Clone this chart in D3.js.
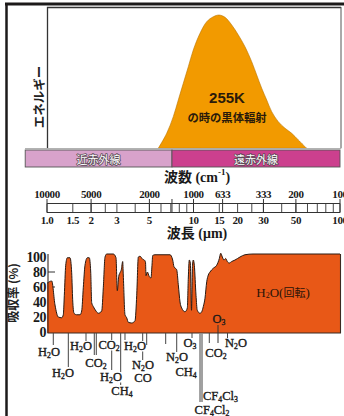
<!DOCTYPE html>
<html><head><meta charset="utf-8">
<script src="https://cdn.jsdelivr.net/npm/d3@7"></script>
<style>html,body{margin:0;padding:0;background:#fff;} svg{display:block}</style>
</head><body>
<svg id="chart" width="344" height="416"></svg>
<script>
// ---------- data ----------
const wavenumberTicks = [10000, 5000, 2000, 1000, 633, 333, 200, 100];
const wavelengthTicks = [1.0, 1.5, 2, 3, 5, 10, 15, 20, 30, 50, 100];
const wavelengthTickLabels = ["1.0", "1.5", "2", "3", "5", "10", "15", "20", "30", "50", "100"];
const rulerMinor = [1, 1.5, 2, 2.5, 3, 4, 5, 6, 7, 8, 9, 10, 15, 20, 25, 30, 40, 50, 60, 70, 80, 90, 100];
const bandNames = ["近赤外線", "遠赤外線"];
const bandEdges = [0.71, 7.13, 100];

const bbWavelength = [5.751, 6.563, 7.280, 7.876, 8.520, 9.216, 9.969, 11.08, 12.31, 13.65, 14.93, 16.41, 18.23, 20.23, 22.46, 24.96, 27.00, 29.21, 31.60, 34.19, 37.92, 42.13, 46.81, 51.93, 59.25];
const bbEnergy = [0, 10.6, 22.4, 34.2, 46.0, 57.7, 69.6, 81.4, 89.6, 93.1, 94.3, 92.7, 87.3, 80.2, 71.9, 61.3, 51.9, 42.5, 34.2, 25.9, 18.8, 14.2, 10.6, 5.9, 0];

const absWavelength = [1.0, 1.077, 1.134, 1.194, 1.260, 1.292, 1.313, 1.342, 1.376, 1.436, 1.474, 1.497, 1.529, 1.595, 1.680, 1.725, 1.769, 1.817, 1.884, 1.944, 1.988, 2.019, 2.070, 2.160, 2.240, 2.363, 2.423, 2.489, 2.556, 2.836, 2.958, 3.019, 3.086, 3.149, 3.215, 3.286, 3.317, 3.407, 3.499, 3.589, 3.786, 3.988, 4.097, 4.201, 4.314, 4.500, 4.615, 4.703, 4.740, 4.837, 4.992, 5.127, 5.208, 5.266, 5.461, 6.912, 7.211, 7.360, 7.680, 7.876, 8.089, 8.308, 8.749, 9.074, 9.216, 9.362, 9.511, 9.691, 9.845, 9.969, 10.13, 10.40, 10.61, 11.08, 11.38, 11.67, 11.98, 12.31, 12.62, 12.96, 13.65, 14.40, 15.01, 15.34, 15.73, 16.15, 16.59, 17.01, 17.55, 18.23, 19.20, 20.77, 22.46, 25.48, 100];
const absValue = [65, 68, 36, 20, 19, 23, 49, 89, 99, 99, 79, 43, 25, 23, 23, 28, 59, 89, 99, 99, 80, 39, 34, 28, 25, 28, 59, 100, 104, 104, 99, 55, 74, 79, 83, 94, 76, 23, 19, 13, 12, 15, 49, 100, 101, 97, 96, 93, 75, 80, 74, 72, 89, 102, 103, 103, 96, 87, 83, 63, 40, 32, 27, 32, 72, 96, 92, 29, 89, 96, 89, 49, 29, 25, 27, 34, 45, 67, 76, 80, 85, 89, 98, 105, 100, 96, 98, 94, 92, 94, 96, 100, 103, 104, 104];
const absTicks = [0, 20, 40, 60, 80, 100];

const molLineWl = [1.104, 1.398, 1.846, 2.103, 2.170, 2.765, 3.184, 3.407, 4.500, 4.792, 6.460, 7.680, 9.768, 11.08, 11.43, 12.82, 17.07];
const molLabelText = ["H2O", "H2O", "H2O", "CO2", "CO2", "H2O", "CH4", "H2O", "N2O", "CO", "N2O", "O3", "CH4", "CF4Cl3", "CF4Cl2", "CO2", "N2O"];
const molLabelWl = [1.032, 1.286, 1.707, 2.160, 2.650, 2.734, 3.250, 3.988, 4.522, 4.522, 7.717, 9.465, 8.889, 11.79, 13.38, 14.24, 19.50];
const o3Wl = 14.70, o3LabelWl = 14.93;

// ---------- layout (pixels) ----------
const molLineLen = [12, 34, 8, 22, 22, 37, 52, 7, 29, 12, 11, 19, 5, 69, 69, 10, 5];
const molLineGray = [false, false, false, false, false, false, false, false, false, false, false, false, false, true, true, false, false];
const molLabelY = [352, 373, 346, 363, 345, 377, 391, 346, 365, 378, 357, 343, 372, 396, 410, 353, 343];
const molLabelAnchor = ["middle", "middle", "middle", "middle", "middle", "middle", "middle", "middle", "middle", "middle", "middle", "middle", "middle", "start", "middle", "middle", "middle"];

const svg = d3.select("#chart");
const x = d3.scaleLog().domain([1, 100]).range([47, 340]);
const yE = d3.scaleLinear().domain([0, 100]).range([148.3, 7]);
const yA = d3.scaleLinear().domain([0, 100]).range([332, 257]);

const SERIF = "'Liberation Serif','Times New Roman','Noto Sans CJK JP',serif";
const CJK = "'Noto Sans CJK JP','Noto Sans',sans-serif";

function chem(textSel, s) {
  const parts = s.match(/[A-Za-z()]+|\d+/g);
  let sub = false;
  parts.forEach(p => {
    const isNum = /^\d+$/.test(p);
    const t = textSel.append("tspan").text(p);
    if (isNum) { t.attr("font-size", "0.62em"); if (!sub) t.attr("dy", 3); sub = true; }
    else { if (sub) t.attr("dy", -3); sub = false; }
  });
}

// ---------- outer frame ----------
svg.append("path").attr("d", "M5,4 H344").attr("stroke", "#1c1a1a").attr("stroke-width", 3);
svg.append("path").attr("d", "M6.5,3 V416").attr("stroke", "#1c1a1a").attr("stroke-width", 2.5);

// ---------- top panel ----------
const bb = bbWavelength.map((w, i) => ({ w, e: bbEnergy[i] }));
svg.append("path").datum(bb)
  .attr("d", d3.area().x(d => x(d.w)).y0(yE(0)).y1(d => yE(d.e)).curve(d3.curveCatmullRom))
  .attr("fill", "#F29A00").attr("stroke", "#b87400").attr("stroke-width", 0.6);

svg.append("path").attr("d", `M47.5,${yE(0)} V7.5 H341`).attr("fill", "none").attr("stroke", "#333").attr("stroke-width", 1.3);
svg.append("path").attr("d", `M341,7 V${yE(0)}`).attr("stroke", "#555").attr("stroke-width", 1);
svg.append("path").attr("d", `M25,148.6 H341`).attr("stroke", "#aaa").attr("stroke-width", 1);

svg.append("text").attr("transform", "translate(38,97) rotate(-90)")
  .attr("text-anchor", "middle").attr("dominant-baseline", "central")
  .attr("font-family", CJK).attr("font-weight", "bold").attr("font-size", 12.5).attr("fill", "#222")
  .text("エネルギー");
svg.append("text").attr("x", 227).attr("y", 97).attr("text-anchor", "middle").attr("dominant-baseline", "central")
  .attr("font-family", "'Liberation Sans',Arial,sans-serif").attr("font-weight", "bold").attr("font-size", 15).attr("fill", "#2a1a0a")
  .text("255K");
svg.append("text").attr("x", 227).attr("y", 117).attr("text-anchor", "middle").attr("dominant-baseline", "central")
  .attr("font-family", CJK).attr("font-weight", "bold").attr("font-size", 11.3).attr("fill", "#2a1a0a")
  .text("の時の黒体輻射");

// ---------- IR bands ----------
const bandColors = ["#D8A2CB", "#CC408E"];
bandNames.forEach((n, i) => {
  const x0 = x(bandEdges[i]), x1 = x(bandEdges[i + 1]);
  svg.append("rect").attr("x", x0).attr("y", 150).attr("width", x1 - x0).attr("height", 17)
    .attr("fill", bandColors[i]).attr("stroke", "#555").attr("stroke-width", 0.9);
  svg.append("text").attr("x", (x0 + x1) / 2).attr("y", 159).attr("text-anchor", "middle").attr("dominant-baseline", "central")
    .attr("font-family", CJK).attr("font-size", 11).attr("fill", "#fff").attr("stroke", "#5a4a55").attr("stroke-width", 1.6)
    .attr("paint-order", "stroke").attr("stroke-linejoin", "round")
    .text(n);
});

// ---------- ruler axis ----------
const t1 = svg.append("text").attr("x", 197).attr("y", 177).attr("text-anchor", "middle").attr("dominant-baseline", "central")
  .attr("font-family", SERIF).attr("font-size", 14).attr("font-weight", "bold").attr("fill", "#1a1a1a");
t1.append("tspan").text("波数 (cm");
t1.append("tspan").attr("font-size", 9).attr("dy", -5).text("-1");
t1.append("tspan").attr("dy", 5).text(")");

const rTop = 203.5, rBot = 212.5;
svg.append("path").attr("d", `M${x(1)},${rTop} H${x(100)} M${x(1)},${rBot} H${x(100)}`).attr("stroke", "#333").attr("stroke-width", 1);
rulerMinor.forEach(w => {
  svg.append("path").attr("d", `M${x(w)},${rTop} V${rBot}`).attr("stroke", "#333").attr("stroke-width", 0.9);
});
wavenumberTicks.map(n => 10000 / n).concat([bandEdges[1]]).forEach(w => {
  svg.append("path").attr("d", `M${x(w)},199 V${rBot}`).attr("stroke", "#333").attr("stroke-width", 1);
});
wavenumberTicks.forEach(n => {
  svg.append("text").attr("x", x(10000 / n)).attr("y", 193.5).attr("text-anchor", "middle").attr("dominant-baseline", "central")
    .attr("font-family", SERIF).attr("font-weight", "bold").attr("font-size", 11).attr("letter-spacing", -0.4).attr("fill", "#1a1a1a")
    .text(n);
});
wavelengthTicks.forEach((w, i) => {
  svg.append("text").attr("x", x(w)).attr("y", 219.5).attr("text-anchor", "middle").attr("dominant-baseline", "central")
    .attr("font-family", SERIF).attr("font-weight", "bold").attr("font-size", 11).attr("letter-spacing", -0.4).attr("fill", "#1a1a1a")
    .text(wavelengthTickLabels[i]);
});
svg.append("text").attr("x", 197).attr("y", 233).attr("text-anchor", "middle").attr("dominant-baseline", "central")
  .attr("font-family", SERIF).attr("font-size", 14).attr("font-weight", "bold").attr("fill", "#1a1a1a")
  .text("波長 (μm)");

// ---------- absorption panel ----------
svg.append("text").attr("transform", "translate(12,293) rotate(-90)")
  .attr("text-anchor", "middle").attr("dominant-baseline", "central")
  .attr("font-family", CJK).attr("font-weight", "bold").attr("font-size", 12).attr("fill", "#222")
  .text("吸収率 (%)");
absTicks.forEach(v => {
  svg.append("text").attr("x", 46).attr("y", yA(v) + 0.5).attr("text-anchor", "end").attr("dominant-baseline", "central")
    .attr("font-family", SERIF).attr("font-weight", "bold").attr("font-size", 14).attr("letter-spacing", -0.5).attr("fill", "#1a1a1a")
    .text(v);
  if (v > 0 && v < 100) svg.append("path").attr("d", `M48,${yA(v)} H55`).attr("stroke", "#333").attr("stroke-width", 1);
});

const ab = absWavelength.map((w, i) => ({ w, v: absValue[i] }));
svg.append("path").datum(ab)
  .attr("d", d3.area().x(d => x(d.w)).y0(yA(0) + 1).y1(d => yA(d.v)).curve(d3.curveMonotoneX))
  .attr("fill", "#E85817");
svg.append("path").datum(ab)
  .attr("d", d3.line().x(d => x(d.w)).y(d => yA(d.v)).curve(d3.curveMonotoneX))
  .attr("fill", "none").attr("stroke", "#2b1a12").attr("stroke-width", 1);
svg.append("path").attr("d", `M48,${yA(104)} V${yA(0) + 1} H${x(100) + 0.5} V${yA(104)}`)
  .attr("fill", "none").attr("stroke", "#3a2a22").attr("stroke-width", 1.1);

svg.append("text").attr("x", 283).attr("y", 292).attr("text-anchor", "middle").attr("dominant-baseline", "central")
  .attr("font-family", SERIF).attr("font-size", 13).attr("fill", "#2a1408")
  .call(s => { chem(s, "H2O("); s.append("tspan").attr("font-family", CJK).attr("font-size", 11).text("回転"); s.append("tspan").text(")"); });

// molecule lines
const base = yA(0) + 1;
molLineWl.forEach((w, i) => {
  svg.append("path").attr("d", `M${x(w)},${base} V${base + molLineLen[i]}`)
    .attr("stroke", molLineGray[i] ? "#8a8a8a" : "#444").attr("stroke-width", molLineGray[i] ? 1.6 : 1);
});
// O3 marker inside the spectrum
svg.append("path").attr("d", `M${x(o3Wl)},325 V${base + 10}`).attr("stroke", "#333").attr("stroke-width", 1);
svg.append("text").attr("x", x(o3LabelWl)).attr("y", 319).attr("text-anchor", "middle").attr("dominant-baseline", "central")
  .attr("font-family", SERIF).attr("font-size", 12.5).attr("fill", "#1a1a1a").attr("stroke", "#1a1a1a").attr("stroke-width", 0.3)
  .call(s => chem(s, "O3"));

// molecule labels with white backing boxes (hide lines behind them)
const labelG = svg.append("g");
molLabelText.forEach((t, i) => {
  const g = labelG.append("g");
  const bgRect = g.append("rect").attr("fill", "#fff");
  const txt = g.append("text").attr("x", molLabelAnchor[i] === "start" ? x(molLabelWl[i]) - 1 : x(molLabelWl[i]))
    .attr("y", molLabelY[i]).attr("text-anchor", molLabelAnchor[i]).attr("dominant-baseline", "central")
    .attr("font-family", SERIF).attr("font-size", 12.5).attr("fill", "#1a1a1a")
    .attr("stroke", "#1a1a1a").attr("stroke-width", 0.35)
    .call(s => chem(s, t));
  const b = txt.node().getBBox();
  bgRect.attr("x", b.x).attr("y", b.y + 2).attr("width", b.width).attr("height", Math.max(0, b.height - 4));
});
</script>
</body></html>
